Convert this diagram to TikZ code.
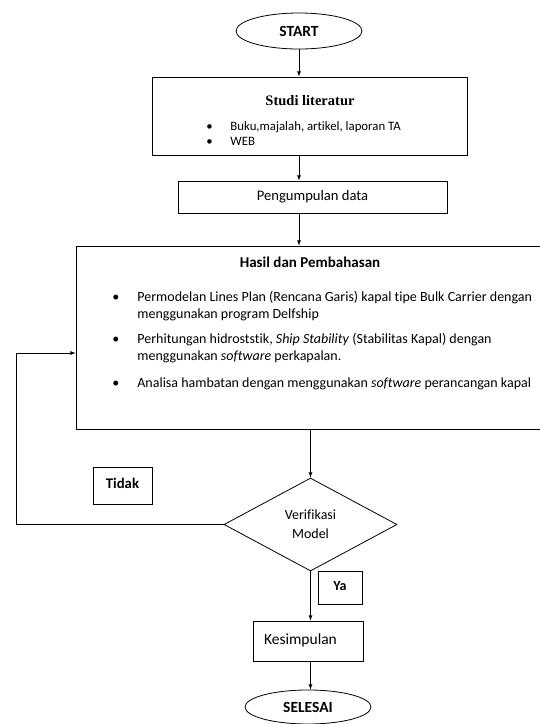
\documentclass[tikz,border=0pt]{standalone}
\usepackage{fontspec}
\setmainfont[Ligatures={NoCommon}]{Carlito}
\newfontfamily\headfont{Liberation Serif}
\usetikzlibrary{shapes.geometric}
\tikzset{
  box/.style={draw,rectangle,inner sep=0pt},
  term/.style={draw,ellipse,inner sep=0pt,font=\fontsize{15.5}{17}\selectfont\bfseries},
  lbl/.style={inner sep=0pt}
}
\begin{document}
\begin{tikzpicture}[x=1pt,y=-1pt,>=latex,line width=0.8pt]
		\useasboundingbox (0,0) rectangle (540,724);
		\node[term,minimum width=126pt,minimum height=36pt] (start) at (299,31) {START};
		\node[box,minimum width=315pt,minimum height=78pt] (studi) at (309.5,116) {};
		\node[lbl,font=\headfont\fontsize{14.5}{16}\selectfont\bfseries] (studit) at (310,101) {Studi literatur};
		\node[lbl,anchor=west,font=\fontsize{12.8}{14}\selectfont] (studia) at (206,127) {\makebox[24pt][l]{\textbullet}Buku,majalah, artikel, laporan TA};
		\node[lbl,anchor=west,font=\fontsize{12.8}{14}\selectfont] (studib) at (206,141) {\makebox[24pt][l]{\textbullet}WEB};
		\node[box,minimum width=269pt,minimum height=32pt,font=\fontsize{14.6}{16}\selectfont] (data) at (312.5,197) {Pengumpulan data};
		\node[box,minimum width=469pt,minimum height=183pt] (hasil) at (310.5,337.5) {};
		\node[lbl,font=\fontsize{15}{17}\selectfont\bfseries] (hasilt) at (310,262) {Hasil dan Pembahasan};
		\node[lbl,anchor=base west,font=\fontsize{14}{17}\selectfont] (hasill) at (112,301) {%
		\begin{tabular}[t]{@{}p{25pt}@{}l@{}}
		\textbullet & Permodelan Lines Plan (Rencana Garis) kapal tipe Bulk Carrier dengan\\
		 & menggunakan program Delfship\\[8pt]
		\textbullet & Perhitungan hidroststik, \textit{Ship Stability} (Stabilitas Kapal) dengan\\
		 & menggunakan \textit{software} perkapalan.\\[10pt]
		\textbullet & Analisa hambatan dengan menggunakan \textit{software} perancangan kapal
		\end{tabular}};
		\node[draw,diamond,inner sep=0pt,minimum width=173pt,minimum height=93pt,align=center,font=\fontsize{14}{19}\selectfont] (verif) at (310.5,524.5) {Verifikasi\\Model};
		\node[box,minimum width=59pt,minimum height=37pt,font=\fontsize{14.7}{16}\selectfont\bfseries] (tidak) at (122.5,485.5) {\raisebox{3.5pt}{Tidak}};
		\node[box,minimum width=44pt,minimum height=33pt,font=\fontsize{14}{16}\selectfont\bfseries] (ya) at (340,587.5) {\raisebox{2.5pt}{Ya}};
		\node[box,minimum width=110pt,minimum height=40pt,text width=88pt,align=left,font=\fontsize{15.5}{17}\selectfont] (simpul) at (308,641) {\raisebox{4pt}{Kesimpulan}};
		\node[term,minimum width=126pt,minimum height=34pt] (selesai) at (308,707) {SELESAI};
		\coordinate (loopb) at (16,524.5);
		\coordinate (loopt) at (16,353);
		% arrows
		\draw[->] (start) -- (start |- studi.north);
		\draw[->] (start |- studi.south) -- (start |- data.north);
		\draw[->] (start |- data.south) -- (start |- hasil.north);
		\draw[->] (verif |- hasil.south) -- (verif.north);
		\draw[->] (verif.south) -- (verif |- simpul.north);
		\draw[->] (verif |- simpul.south) -- (verif |- selesai.north);
		\draw[->] (verif.west) -- (loopb) -- (loopt) -- (loopt -| hasil.west);
		\end{tikzpicture}
\end{document}
